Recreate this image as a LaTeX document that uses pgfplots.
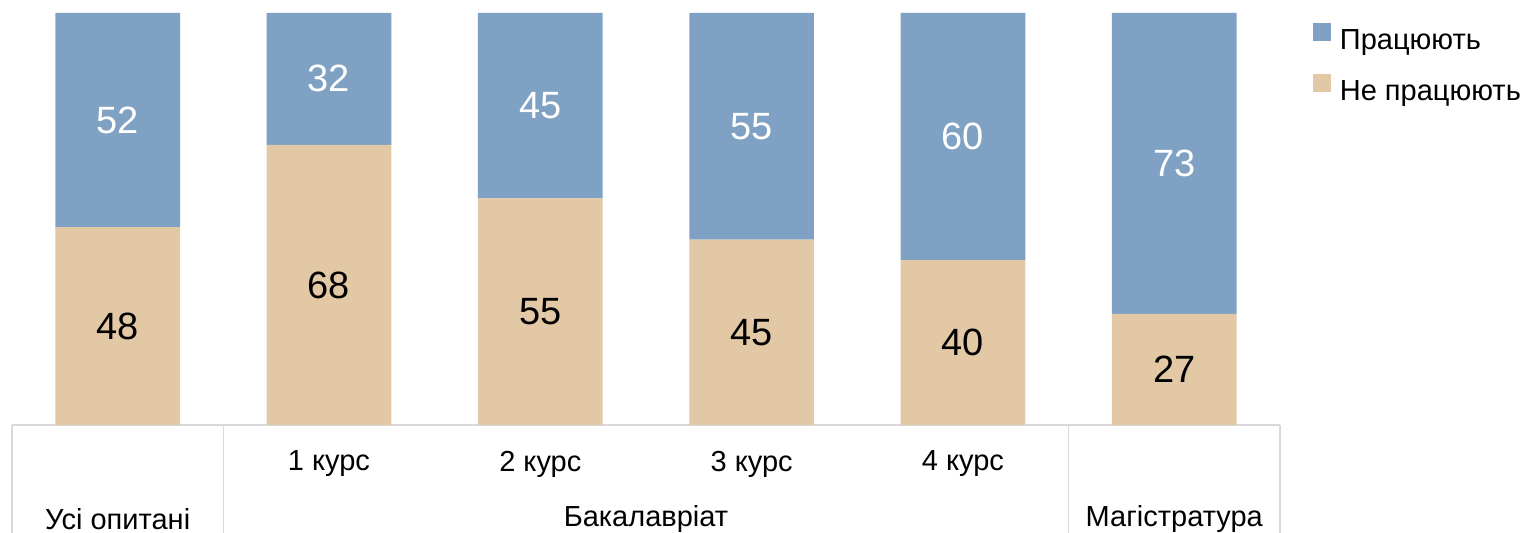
\documentclass[border=0pt]{standalone}
\usepackage{pgfplots}
\pgfplotsset{compat=1.18}
\usepackage{fontspec}
\setmainfont{Liberation Sans}
\definecolor{cblue}{HTML}{7FA1C4}
\definecolor{ctan}{HTML}{E3C8A6}
\definecolor{cgrid}{HTML}{D9D9D9}
\begin{document}
\begin{tikzpicture}
\useasboundingbox (0,0) rectangle (1530bp,533bp);
\begin{axis}[
  at={(12bp,108bp)}, anchor=south west,
  scale only axis, width=1268bp, height=412bp,
  ybar stacked, bar width=0.59,
  xmin=-0.5, xmax=5.5, ymin=0, ymax=100,
  axis y line=none,
  axis x line*=bottom,
  x axis line style={cgrid, line width=1.5bp},
  tick align=outside,
  xtick={1,2,3,4}, xticklabels={1 курс,2 курс,3 курс,4 курс},
  minor xtick={-0.5,0.5,4.5,5.5},
  major tick length=0pt, minor tick length=112bp,
  tick style={cgrid, line width=1.5bp},
  x tick label style={font=\fontsize{29bp}{32bp}\selectfont, anchor=center, yshift=-39bp},
  extra x ticks={0,2.5,5},
  extra x tick labels={Усі опитані,Бакалавріат,Магістратура},
  extra x tick style={major tick length=0pt, x tick label style={yshift=-55bp}},
  /pgf/number format/assume math mode=true,
  point meta=rawy,
  nodes near coords,
  every node near coord/.append style={font=\fontsize{38bp}{42bp}\selectfont},
  legend style={draw=none, fill=none, inner sep=0pt, outer sep=0pt,
    at={(1.026,0.975)}, anchor=north west, row sep=18bp, column sep=9bp,
    font=\fontsize{29bp}{32bp}\selectfont,
    nodes={inner sep=0pt, text height=21bp, text depth=6bp}},
  legend cell align=left,
  reverse legend,
]
\addplot[fill=ctan, draw=none, every node near coord/.append style={text=black},
  legend image code/.code={\fill[ctan] (0bp,1bp) rectangle (18bp,19bp);}]
  coordinates {(0,48) (1,68) (2,55) (3,45) (4,40) (5,27)};
\addplot[fill=cblue, draw=none, every node near coord/.append style={text=white},
  legend image code/.code={\fill[cblue] (0bp,1bp) rectangle (18bp,19bp);}]
  coordinates {(0,52) (1,32) (2,45) (3,55) (4,60) (5,73)};
\legend{Не працюють, Працюють}
\end{axis}
\end{tikzpicture}
\end{document}
